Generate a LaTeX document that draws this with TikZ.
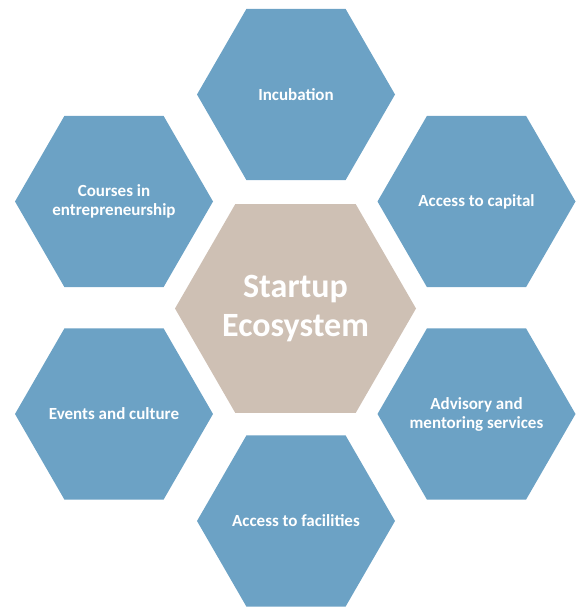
\documentclass[tikz,border=0pt]{standalone}
\usepackage{fontspec}
\setmainfont{Carlito}
\usepackage{tikz}
\usetikzlibrary{shapes.geometric}
\definecolor{hexblue}{RGB}{108,162,197}
\definecolor{coretan}{RGB}{206,192,180}

\begin{document}
\begin{tikzpicture}[
  x=1pt, y=-1pt,
  font=\bfseries\fontsize{17}{19}\selectfont,
  hex/.style={regular polygon, regular polygon sides=6, inner sep=-40pt,
    align=center, text=white},
  petal/.style={hex, fill=hexblue, minimum size=198pt},
  core/.style={hex, fill=coretan, minimum size=241pt,
    font=\bfseries\fontsize{34}{39}\selectfont}
]
\useasboundingbox (0,0) rectangle (577,608);
\node[core]  (eco) at (295.5,308.5) {Startup\\Ecosystem};
\node[petal] (inc) at (296,94.5)    {Incubation};
\node[petal] (cap) at (476.5,201.5) {Access to capital};
\node[petal] (adv) at (476.5,414)   {Advisory and\\mentoring services};
\node[petal] (fac) at (296,521)     {Access to facilities};
\node[petal] (evt) at (114,414)     {Events and culture};
\node[petal] (crs) at (114,201.5)   {Courses in\\entrepreneurship};
\end{tikzpicture}
\end{document}
